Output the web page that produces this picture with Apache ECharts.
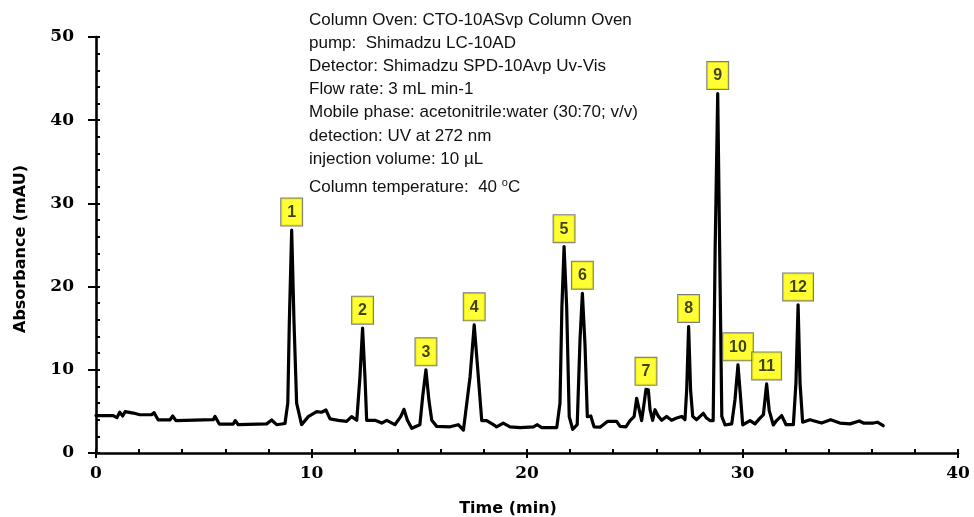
<!DOCTYPE html>
<html>
<head>
<meta charset="utf-8">
<title>HPLC chromatogram</title>
<script src="https://cdn.jsdelivr.net/npm/echarts@6/dist/echarts.min.js"></script>
<style>
  html, body { margin: 0; padding: 0; background: #ffffff; }
  #chart { width: 974px; height: 517px; }
</style>
</head>
<body>
<div id="chart"></div>
<script>
// Detector trace: retention time (min) and absorbance (mAU)
const traceTime = [
  0.00, 0.19, 0.80, 0.97, 1.10, 1.24, 1.35, 1.73, 2.04, 2.58, 2.69, 2.89, 3.43, 3.56, 3.71,
  5.44, 5.52, 5.72, 6.37, 6.46, 6.60, 7.92, 8.15, 8.38, 8.77, 8.90, 8.97, 9.08, 9.19, 9.31,
  9.54, 9.85, 10.24, 10.47, 10.67, 10.86, 11.24, 11.63, 11.86, 12.10, 12.25, 12.37, 12.48, 12.56,
  12.95, 13.26, 13.49, 13.87, 14.14, 14.29, 14.45, 14.65, 15.03, 15.16, 15.31, 15.45, 15.58, 15.81,
  16.43, 16.81, 17.05, 17.36, 17.55, 17.74, 17.90, 18.13, 18.44, 18.59, 18.90, 19.21, 19.68, 20.30,
  20.48, 20.68, 21.38, 21.53, 21.62, 21.72, 21.84, 21.96, 22.12, 22.33, 22.46, 22.57, 22.69, 22.80,
  22.96, 23.11, 23.39, 23.73, 24.16, 24.32, 24.59, 24.78, 24.97, 25.09, 25.21, 25.32, 25.43, 25.52,
  25.63, 25.71, 25.83, 25.94, 26.10, 26.25, 26.48, 26.71, 26.95, 27.18, 27.33, 27.41, 27.50, 27.59,
  27.69, 27.87, 28.18, 28.33, 28.49, 28.64, 28.73, 28.85, 28.96, 29.04, 29.19, 29.50, 29.65, 29.79,
  29.92, 30.01, 30.35, 30.58, 30.78, 30.97, 31.12, 31.24, 31.43, 31.58, 31.82, 32.02, 32.36, 32.48,
  32.58, 32.67, 32.79, 33.13, 33.67, 34.09, 34.52, 34.99, 35.42, 35.61, 36.07, 36.26, 36.53
];
const traceAbs = [
  4.50, 4.50, 4.50, 4.25, 4.90, 4.45, 4.97, 4.80, 4.60, 4.60, 4.85, 3.97, 3.97, 4.45, 3.90,
  4.00, 4.40, 3.48, 3.48, 3.90, 3.40, 3.50, 3.97, 3.40, 3.55, 6.00, 15.6, 26.8, 15.6, 6.00,
  3.40, 4.37, 4.97, 4.90, 5.17, 4.10, 3.93, 3.80, 4.37, 3.93, 9.20, 15.0, 9.20, 3.93,
  3.93, 3.60, 3.93, 3.40, 4.37, 5.25, 3.93, 2.97, 3.40, 6.80, 10.0, 6.30, 3.93, 3.20,
  3.15, 3.40, 2.75, 9.20, 15.4, 9.20, 3.90, 3.90, 3.40, 3.15, 3.60, 3.15, 3.05, 3.15,
  3.40, 3.05, 3.05, 5.97, 17.6, 24.8, 17.6, 4.37, 2.85, 3.40, 13.6, 19.2, 13.1, 4.37,
  4.45, 3.15, 3.10, 3.80, 3.80, 3.20, 3.15, 3.90, 4.37, 6.57, 5.17, 3.90, 5.90, 7.65,
  7.60, 5.20, 3.93, 5.20, 4.40, 3.93, 4.40, 3.93, 4.20, 4.40, 4.00, 7.60, 15.2, 7.60,
  4.40, 4.00, 4.77, 4.20, 3.90, 3.90, 24.4, 43.2, 20.4, 4.40, 3.37, 3.50, 6.37, 10.6,
  6.37, 3.37, 3.90, 3.50, 4.10, 4.60, 8.30, 5.10, 3.37, 3.90, 4.50, 3.40, 3.40, 8.40,
  17.8, 8.40, 3.70, 4.00, 3.60, 4.00, 3.60, 3.50, 3.85, 3.60, 3.60, 3.70, 3.28
];

// Numbered peaks and their retention times (min)
const peakNumbers = ['1', '2', '3', '4', '5', '6', '7', '8', '9', '10', '11', '12'];
const peakTimes = [9.08, 12.37, 15.31, 17.55, 21.72, 22.57, 25.52, 27.50, 28.85, 29.79, 31.12, 32.58];

// Axis ranges, labelled ticks and minor tick spacing
const xRange = [0, 40];
const xStep = 10;
const xMinorStep = 2;
const yRange = [0, 50];
const yStep = 10;
const yMinorStep = 2;

// Run conditions
const conditionLines = [
  'Column Oven: CTO-10ASvp Column Oven',
  'pump:  Shimadzu LC-10AD',
  'Detector: Shimadzu SPD-10Avp Uv-Vis',
  'Flow rate: 3 mL min-1',
  'Mobile phase: acetonitrile:water (30:70; v/v)',
  'detection: UV at 272 nm',
  'injection volume: 10 \u00b5L'
];
const temperatureText = ['Column temperature:  40 ', 'o', 'C'];

const xTitle = 'Time (min)';
const yTitle = 'Absorbance (mAU)';

const traceData = traceTime.map((t, i) => [t, traceAbs[i]]);
const peakData = peakTimes.map((t, i) => {
  const idx = traceTime.indexOf(t);
  return { value: [t, traceAbs[idx]], name: peakNumbers[i] };
});

const axisBlack = '#000000';
const tickFont = { fontFamily: 'DejaVu Serif', fontWeight: 'bold', fontSize: 17, color: '#000' };

const chart = echarts.init(document.getElementById('chart'), null, { renderer: 'canvas' });

const infoGraphics = conditionLines.map((line, i) => ({
  type: 'text',
  x: 309,
  y: 20 + i * 23.2,
  style: {
    text: line,
    fontFamily: 'Liberation Sans',
    fontSize: 17,
    fill: '#111',
    textVerticalAlign: 'middle'
  }
}));
infoGraphics.push({
  type: 'text',
  x: 309,
  y: 187,
  style: {
    text: '{a|' + temperatureText[0] + '}{s|' + temperatureText[1] + '}{a|' + temperatureText[2] + '}',
    textVerticalAlign: 'middle',
    rich: {
      a: { fontFamily: 'Liberation Sans', fontSize: 17, fill: '#111' },
      s: { fontFamily: 'Liberation Sans', fontSize: 11, fill: '#111', verticalAlign: 'top', padding: [0, 0, 8, 0] }
    }
  }
});

// Main axes carry the line, outward ticks and labels; companion axes add inward ticks
function mainAxis(range, step, margin, tickLen, position) {
  return {
    type: 'value',
    position: position,
    min: range[0],
    max: range[1],
    interval: step,
    axisLine: { show: true, onZero: false, lineStyle: { color: axisBlack, width: 2.6 } },
    axisTick: { show: true, inside: false, length: tickLen, lineStyle: { color: axisBlack, width: 2 } },
    splitLine: { show: false },
    axisLabel: Object.assign({ margin: margin }, tickFont)
  };
}
function innerTickAxis(range, step, position) {
  return {
    type: 'value',
    position: position,
    min: range[0],
    max: range[1],
    interval: step,
    axisLine: { show: false, onZero: false },
    axisTick: { show: true, inside: true, length: 4, lineStyle: { color: axisBlack, width: 2 } },
    splitLine: { show: false },
    axisLabel: { show: false }
  };
}

const option = {
  backgroundColor: '#ffffff',
  animation: false,
  grid: { left: 96, right: 16, top: 37, bottom: 64, containLabel: false },
  xAxis: [
    mainAxis(xRange, xStep, 12, 5, 'bottom'),
    innerTickAxis(xRange, xMinorStep, 'bottom')
  ],
  yAxis: [
    mainAxis(yRange, yStep, 22, 8, 'left'),
    innerTickAxis(yRange, yMinorStep, 'left')
  ],
  series: [
    {
      type: 'line',
      data: traceData,
      showSymbol: false,
      symbol: 'none',
      smooth: false,
      lineStyle: { color: '#000', width: 3.2, join: 'round', cap: 'round' },
      z: 2,
      silent: true
    },
    {
      type: 'scatter',
      data: peakData,
      symbol: 'circle',
      symbolSize: 1,
      itemStyle: { color: 'rgba(0,0,0,0)' },
      z: 5,
      silent: true,
      label: {
        show: true,
        position: 'top',
        distance: 4,
        formatter: p => p.name,
        fontFamily: 'Liberation Sans',
        fontWeight: 'bold',
        fontSize: 16,
        lineHeight: 18,
        color: '#111',
        backgroundColor: '#ffff00',
        borderColor: '#5a5a5a',
        borderWidth: 1,
        padding: [5, 6, 4, 6]
      }
    }
  ],
  graphic: infoGraphics.concat([
    {
      type: 'text',
      x: 508,
      y: 509,
      style: {
        text: xTitle,
        fontFamily: 'DejaVu Sans',
        fontWeight: 'bold',
        fontSize: 16,
        fill: '#000',
        textAlign: 'center',
        textVerticalAlign: 'middle'
      }
    },
    {
      type: 'text',
      x: 21,
      y: 249,
      rotation: Math.PI / 2,
      style: {
        text: yTitle,
        fontFamily: 'DejaVu Sans',
        fontWeight: 'bold',
        fontSize: 16,
        fill: '#000',
        textAlign: 'center',
        textVerticalAlign: 'middle'
      }
    }
  ])
};

chart.setOption(option);
</script>
</body>
</html>
